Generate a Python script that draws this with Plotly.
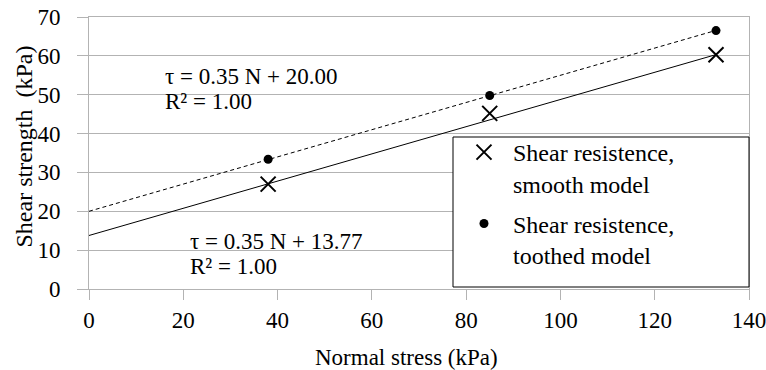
import plotly.graph_objects as go

# Data
normal_stress = [38, 85, 133]
smooth_shear = [27.0, 45.2, 60.3]
toothed_shear = [33.4, 49.8, 66.5]

# Trend lines (from the displayed equations)
trend_x = [0, 133]
smooth_slope, smooth_intercept = 0.35, 13.77
toothed_slope, toothed_intercept = 0.35, 20.00

x_ticks = [0, 20, 40, 60, 80, 100, 120, 140]
y_ticks = [0, 10, 20, 30, 40, 50, 60, 70]

FONT = "Liberation Serif"
FS = 23
GRID = "#b3b3b3"

W, H = 766, 370
L, R, T, B = 89, 17, 17, 81
PW, PH = W - L - R, H - T - B

fig = go.Figure()

fig.add_trace(go.Scatter(
    x=trend_x, y=[smooth_slope * v + smooth_intercept for v in trend_x],
    mode="lines", line=dict(color="black", width=1), showlegend=False, hoverinfo="skip"))
fig.add_trace(go.Scatter(
    x=trend_x, y=[toothed_slope * v + toothed_intercept for v in trend_x],
    mode="lines", line=dict(color="black", width=1, dash="4px,3px"), showlegend=False, hoverinfo="skip"))

fig.add_trace(go.Scatter(
    x=normal_stress, y=smooth_shear, mode="markers",
    name="Shear resistence,<br>smooth model", legendgroup="a",
    marker=dict(symbol="x-thin", size=15, color="black", line=dict(width=2, color="black"))))
fig.add_trace(go.Scatter(
    x=normal_stress, y=toothed_shear, mode="markers",
    name="Shear resistence,<br>toothed model", legendgroup="b",
    marker=dict(symbol="circle", size=9, color="black")))

# legend frame (LibreOffice-style box)
fig.add_shape(type="rect", xref="paper", yref="paper",
              x0=(453 - 89) / PW, x1=1.0, y0=2 / PH, y1=(289 - 137) / PH,
              line=dict(color="black", width=1), fillcolor="white", layer="above")

fig.update_layout(
    width=W, height=H,
    margin=dict(l=L, r=R, t=T, b=B, autoexpand=False),
    paper_bgcolor="white", plot_bgcolor="white",
    font=dict(family=FONT, size=FS, color="black"),
    showlegend=True,
    legend=dict(
        x=(455 - 89) / PW, xanchor="left", y=(289 - 130) / PH, yanchor="top",
        borderwidth=0, bgcolor="rgba(0,0,0,0)",
        valign="top", itemwidth=48, tracegroupgap=6,
        font=dict(family=FONT, size=24, color="black"),
    ),
    xaxis=dict(
        range=[0, 140], tickvals=x_ticks, ticktext=[str(v) for v in x_ticks],
        showgrid=False, zeroline=False, automargin=False,
        showline=True, linecolor=GRID, linewidth=1, mirror=True,
        ticks="outside", ticklen=10, tickcolor=GRID, tickwidth=1,
        ticklabeloverflow="allow",
        tickfont=dict(family=FONT, size=FS, color="black"),
    ),
    yaxis=dict(
        range=[0, 70], tickvals=y_ticks, ticktext=[str(v) for v in y_ticks],
        showgrid=True, gridcolor=GRID, gridwidth=1, zeroline=False, automargin=False,
        showline=True, linecolor=GRID, linewidth=1, mirror=True,
        ticks="outside", ticklen=11, tickcolor=GRID, tickwidth=1,
        ticklabelstandoff=12, ticklabeloverflow="allow",
        tickfont=dict(family=FONT, size=FS, color="black"),
    ),
    annotations=[
        dict(text="Normal stress (kPa)", xref="paper", yref="paper", x=(406.5 - 89) / PW, y=0,
             yshift=-68, xanchor="center", yanchor="middle", showarrow=False,
             font=dict(family=FONT, size=FS)),
        dict(text="Shear strength\u00a0 (kPa)", xref="paper", yref="paper", x=0, y=(289 - 146.5) / PH,
             xshift=-66, xanchor="center", yanchor="middle", textangle=-90, showarrow=False,
             font=dict(family=FONT, size=24)),
        dict(text="τ = 0.35 N + 20.00", xref="x", yref="y", x=15.7, y=54.6,
             xanchor="left", yanchor="middle", showarrow=False, font=dict(family=FONT, size=FS)),
        dict(text="R² = 1.00", xref="x", yref="y", x=15.7, y=48.2,
             xanchor="left", yanchor="middle", showarrow=False, font=dict(family=FONT, size=FS)),
        dict(text="τ = 0.35 N + 13.77", xref="x", yref="y", x=21.1, y=12.1,
             xanchor="left", yanchor="middle", showarrow=False, font=dict(family=FONT, size=FS)),
        dict(text="R² = 1.00", xref="x", yref="y", x=21.1, y=5.7,
             xanchor="left", yanchor="middle", showarrow=False, font=dict(family=FONT, size=FS)),
    ],
)

fig.write_html(
    "out.html",
    config={"displayModeBar": False},
    post_script="document.body.style.margin='0';document.body.style.overflow='hidden';",
)
